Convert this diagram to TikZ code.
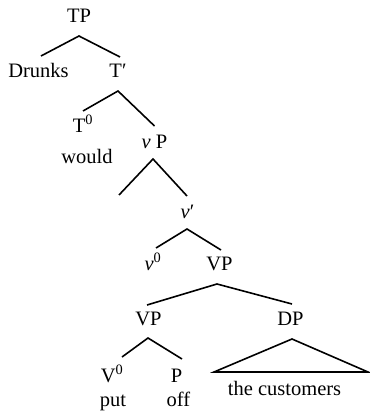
\documentclass[tikz,border=0pt]{standalone}
\usepackage{fontspec}
\setmainfont{Liberation Serif}
\tikzset{
  cat/.style={anchor=base, inner sep=0pt, font=\fontsize{20.5}{24}\selectfont},
  branch/.style={line width=1.6pt},
}
\begin{document}
\begin{tikzpicture}[x=1pt, y=-1pt]
  \useasboundingbox (0,0) rectangle (369,417);
  % categories and words
  \node[cat] (tp) at (79,23) {TP};
  \node[cat] (drunks) at (38.5,78) {Drunks};
  \node[cat] (tbar) at (118,78) {T′};
  \node[cat] (t0) at (83,132) {T\textsuperscript{0}};
  \node[cat] (would) at (87,163) {would};
  \node[cat] (vp) at (154.5,148) {\textit{v} P};
  \node[cat] (vbar) at (187.5,218) {\textit{v}′};
  \node[cat] (v0) at (153,270) {\textit{v}\textsuperscript{0}};
  \node[cat] (vpa) at (219.5,270) {VP};
  \node[cat] (vpb) at (148.5,325) {VP};
  \node[cat] (dp) at (290.5,325) {DP};
  \node[cat] (verb) at (112,382) {V\textsuperscript{0}};
  \node[cat] (prt) at (176.5,382) {P};
  \node[cat] (put) at (113,406) {put};
  \node[cat] (off) at (178.5,406) {off};
  \node[cat] (obj) at (284.5,395) {the customers};
  \coordinate (spec) at (119,195);
  % branches
  \draw[branch] ([shift={(2.5,-22)}]drunks.base) -- ([shift={(0,13)}]tp.base) -- ([shift={(2,-21)}]tbar.base);
  \draw[branch] ([shift={(0,-21)}]t0.base) -- ([shift={(0,13)}]tbar.base) -- ([shift={(0,-22)}]vp.base);
  \draw[branch] (spec) -- ([shift={(-1.5,11)}]vp.base) -- ([shift={(-0.5,-22)}]vbar.base);
  \draw[branch] ([shift={(3,-22)}]v0.base) -- ([shift={(-0.5,11)}]vbar.base) -- ([shift={(1.5,-20)}]vpa.base);
  \draw[branch] ([shift={(-1.5,-20)}]vpb.base) -- ([shift={(-2.5,14)}]vpa.base) -- ([shift={(1.5,-21)}]dp.base);
  \draw[branch] ([shift={(10,-25)}]verb.base) -- ([shift={(-0.5,13)}]vpb.base) -- ([shift={(5.5,-23)}]prt.base);
  % the DP is left unanalysed
  \draw[branch] ([shift={(1.5,14)}]dp.base) -- ([shift={(-70.5,-23)}]obj.base) -- ([shift={(83.5,-23)}]obj.base) -- cycle;
\end{tikzpicture}
\end{document}
